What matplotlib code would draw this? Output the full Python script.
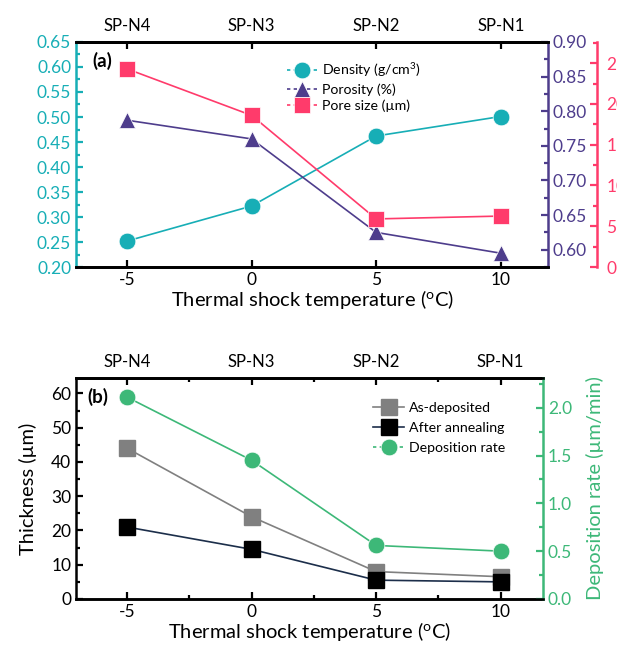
import matplotlib
matplotlib.use("Agg")
import matplotlib.pyplot as plt
from matplotlib.ticker import MultipleLocator, FormatStrFormatter
from matplotlib.lines import Line2D

plt.rcParams["font.family"] = ["Lato", "DejaVu Sans"]
plt.rcParams["mathtext.default"] = "regular"
plt.rcParams["axes.unicode_minus"] = False

temps = [-5, 0, 5, 10]
samples = ["SP-N4", "SP-N3", "SP-N2", "SP-N1"]

# panel (a)
density = [0.252, 0.322, 0.462, 0.501]
porosity = [0.787, 0.760, 0.625, 0.595]
pore_size = [24.3, 18.6, 5.9, 6.25]

# panel (b)
as_deposited = [44.0, 24.0, 8.0, 6.5]
after_annealing = [21.0, 14.5, 5.5, 5.0]
dep_rate = [2.11, 1.45, 0.56, 0.50]

teal = "#17AEB6"
purple = "#4E3D8C"
pink = "#FF3B6B"
green = "#3DB878"
grey = "#808080"
navy = "#1C2E4A"

fig = plt.figure(figsize=(6.17, 6.54), dpi=100)

lw_spine = 1.8
tick_kw = dict(direction="in", width=1.6)


def style_spines(ax):
    for s in ax.spines.values():
        s.set_linewidth(lw_spine)


# ---------------- panel (a) ----------------
ax1 = fig.add_axes([0.1232, 0.5917, 0.7650, 0.3441])
ax2 = ax1.twinx()
ax3 = ax1.twinx()
ax3.spines["right"].set_position(("outward", 35))

for a in (ax1, ax2, ax3):
    style_spines(a)

ax1.plot(temps, density, "-o", color=teal, lw=1.2, ms=12, mec="white", mew=0.5)
ax2.plot(temps, porosity, "-^", color=purple, lw=1.2, ms=12, mec="white", mew=0.5)
ax3.plot(temps, pore_size, "-s", color=pink, lw=1.2, ms=11, mec="white", mew=0.5)

ax1.set_xlim(-7.05, 11.9)
ax1.set_ylim(0.2, 0.65)
ax2.set_ylim(0.575, 0.90)
ax3.set_ylim(0, 27.6)

ax1.xaxis.set_major_locator(MultipleLocator(5))
ax1.yaxis.set_major_locator(MultipleLocator(0.05))
ax1.yaxis.set_minor_locator(MultipleLocator(0.025))
ax2.yaxis.set_major_locator(MultipleLocator(0.05))
ax2.yaxis.set_minor_locator(MultipleLocator(0.025))
ax3.yaxis.set_major_locator(MultipleLocator(5))
ax3.yaxis.set_minor_locator(MultipleLocator(2.5))
ax1.yaxis.set_major_formatter(FormatStrFormatter("%.2f"))
ax2.yaxis.set_major_formatter(FormatStrFormatter("%.2f"))

ax1.spines["left"].set_color(teal)
ax1.spines["right"].set_visible(False)
ax2.spines["right"].set_color(purple)
ax2.spines["left"].set_visible(False)
ax3.spines["right"].set_color(pink)
ax3.spines["left"].set_visible(False)

ax1.tick_params(axis="y", which="major", colors=teal, length=5, labelsize=12.5, **tick_kw)
ax1.tick_params(axis="y", which="minor", colors=teal, length=3, **tick_kw)
ax1.tick_params(axis="x", which="major", length=5, labelsize=12.5, top=False, **tick_kw)
ax2.tick_params(axis="y", which="major", colors=purple, length=5, labelsize=12.5, **tick_kw)
ax2.tick_params(axis="y", which="minor", colors=purple, length=3, **tick_kw)
ax3.tick_params(axis="y", which="major", colors=pink, length=5, labelsize=12.5, pad=7, **tick_kw)
ax3.tick_params(axis="y", which="minor", colors=pink, length=3, **tick_kw)

ax1.set_xlabel("Thermal shock temperature ($^{o}$C)", fontsize=14.5, labelpad=0)

top1 = ax1.secondary_xaxis("top")
top1.set_xticks(temps)
top1.set_xticklabels(samples)
top1.tick_params(axis="x", length=5, labelsize=12, pad=6, **tick_kw)
top1.spines["top"].set_linewidth(lw_spine)

ax1.text(0.035, 0.955, "(a)", transform=ax1.transAxes, fontsize=13.5,
         fontweight="bold", va="top", ha="left")

handles_a = [
    Line2D([], [], color=teal, ls=(0, (2, 2)), lw=1.2, marker="o", ms=12, mec="white", mew=0.5),
    Line2D([], [], color=purple, ls=(0, (2, 2)), lw=1.2, marker="^", ms=12, mec="white", mew=0.5),
    Line2D([], [], color=pink, ls=(0, (2, 2)), lw=1.2, marker="s", ms=11, mec="white", mew=0.5),
]
ax3.legend(handles_a, ["Density (g/cm$^{3}$)", "Porosity (%)", "Pore size (µm)"],
           loc="upper left", bbox_to_anchor=(0.425, 0.96), frameon=False,
           fontsize=10.2, handlelength=2.2, handletextpad=0.3, labelspacing=0.3,
           borderpad=0.2)

# ---------------- panel (b) ----------------
bx1 = fig.add_axes([0.1232, 0.0841, 0.7569, 0.3379])
bx2 = bx1.twinx()
style_spines(bx1)
style_spines(bx2)

bx1.plot(temps, as_deposited, "-s", color=grey, lw=1.2, ms=11)
bx1.plot(temps, after_annealing, "-", color=navy, lw=1.2)
bx1.plot(temps, after_annealing, "s", color="black", ms=11)
bx2.plot(temps, dep_rate, "-o", color=green, lw=1.2, ms=12, mec="white", mew=0.5)

bx1.set_xlim(-7.05, 11.7)
bx1.set_ylim(0, 64.5)
bx2.set_ylim(0, 2.31)

bx1.xaxis.set_major_locator(MultipleLocator(5))
bx1.xaxis.set_minor_locator(MultipleLocator(2.5))
bx1.yaxis.set_major_locator(MultipleLocator(10))
bx1.yaxis.set_minor_locator(MultipleLocator(5))
bx2.yaxis.set_major_locator(MultipleLocator(0.5))
bx2.yaxis.set_minor_locator(MultipleLocator(0.25))
bx2.yaxis.set_major_formatter(FormatStrFormatter("%.1f"))

bx1.spines["right"].set_visible(False)
bx2.spines["right"].set_color(green)
bx2.spines["left"].set_visible(False)

bx1.tick_params(axis="both", which="major", length=5, labelsize=12.5, **tick_kw)
bx1.tick_params(axis="both", which="minor", length=3, **tick_kw)
bx2.tick_params(axis="y", which="major", colors=green, length=5, labelsize=12.5, **tick_kw)
bx2.tick_params(axis="y", which="minor", colors=green, length=3, **tick_kw)

bx1.set_xlabel("Thermal shock temperature ($^{o}$C)", fontsize=14.5, labelpad=0)
bx1.set_ylabel("Thickness (µm)", fontsize=14.5, labelpad=10)
bx2.set_ylabel("Deposition rate (µm/min)", fontsize=14.5, color=green, labelpad=10)

top2 = bx1.secondary_xaxis("top")
top2.set_xticks(temps)
top2.set_xticklabels(samples)
top2.xaxis.set_minor_locator(MultipleLocator(2.5))
top2.tick_params(axis="x", which="major", length=5, labelsize=12, pad=6, **tick_kw)
top2.tick_params(axis="x", which="minor", length=3, **tick_kw)
top2.spines["top"].set_linewidth(lw_spine)

bx1.text(0.025, 0.955, "(b)", transform=bx1.transAxes, fontsize=13.5,
         fontweight="bold", va="top", ha="left")

handles_b = [
    Line2D([], [], color=grey, lw=1.2, marker="s", ms=11),
    Line2D([], [], color=navy, lw=1.2, marker="s", ms=11, mfc="black", mec="black"),
    Line2D([], [], color=green, ls=(0, (2, 2)), lw=1.2, marker="o", ms=12, mec="white", mew=0.5),
]
bx2.legend(handles_b, ["As-deposited", "After annealing", "Deposition rate"],
           loc="upper left", bbox_to_anchor=(0.615, 0.935), frameon=False,
           fontsize=10.2, handlelength=2.2, handletextpad=0.3, labelspacing=0.55,
           borderpad=0.2)

fig.savefig("out.png", dpi=100)
